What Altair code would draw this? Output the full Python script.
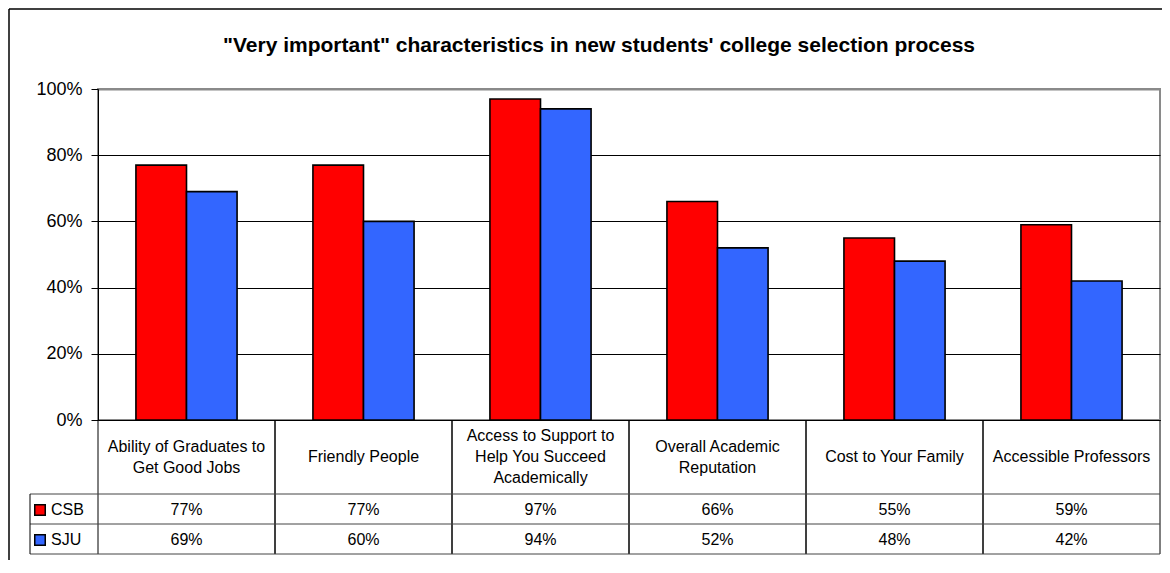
import altair as alt
import pandas as pd

TITLE = "\"Very important\" characteristics in new students' college selection process"
categories = [
    "Ability of Graduates to Get Good Jobs",
    "Friendly People",
    "Access to Support to Help You Succeed Academically",
    "Overall Academic Reputation",
    "Cost to Your Family",
    "Accessible Professors",
]
category_labels = [
    "Ability of Graduates to\nGet Good Jobs",
    "Friendly People",
    "Access to Support to\nHelp You Succeed\nAcademically",
    "Overall Academic\nReputation",
    "Cost to Your Family",
    "Accessible Professors",
]
series = ["CSB", "SJU"]
csb = [77, 77, 97, 66, 55, 59]
sju = [69, 60, 94, 52, 48, 42]
colors = ["#FF0000", "#3366FF"]
y_ticks = [0, 20, 40, 60, 80, 100]

FONT = "Liberation Sans"
W, H = 1062, 331
ROW_TOP = [405, 435]      # CSB / SJU row tops (px below plot top)
TABLE_BOTTOM = 465
LINE_H = 21

long = pd.DataFrame(
    [{"cat": c, "series": s, "value": v}
     for s, vals in zip(series, [csb, sju])
     for c, v in zip(categories, vals)]
)
cats_df = pd.DataFrame({"cat": categories, "label": category_labels,
                        "nlines": [lbl.count("\n") + 1 for lbl in category_labels]})
ser_df = pd.DataFrame({"series": series})
one = pd.DataFrame({"t": [TITLE]})

x_scale = alt.Scale(domain=categories, paddingInner=0, paddingOuter=0)
color_scale = alt.Scale(domain=series, range=colors)

bars = alt.Chart(long).mark_bar(stroke="black", strokeWidth=1.6).encode(
    x=alt.X("cat:N", scale=x_scale, sort=categories,
            axis=alt.Axis(labels=False, ticks=False, title=None, grid=False,
                          domainColor="black", domainWidth=1)),
    xOffset=alt.XOffset("series:N",
                        scale=alt.Scale(domain=series, paddingInner=0, paddingOuter=0.75)),
    y=alt.Y("value:Q", scale=alt.Scale(domain=[0, 100]),
            axis=alt.Axis(values=y_ticks, labelExpr="datum.value + '%'", title=None,
                          labelFont=FONT, labelFontSize=18, labelColor="black",
                          labelPadding=9, tickSize=7, tickColor="black",
                          domainColor="black", domainWidth=1,
                          grid=True,
                          gridColor={"condition": {"test": "datum.value >= 100", "value": "#8a8a8a"},
                                     "value": "#000000"},
                          gridWidth={"condition": {"test": "datum.value >= 100", "value": 2},
                                     "value": 1})),
    color=alt.Color("series:N", scale=color_scale, legend=None),
)

# table vertical lines (cell boundaries)
vl_left = alt.Chart(cats_df).mark_rule(color="black", strokeWidth=1).encode(
    x=alt.X("cat:N", scale=x_scale, bandPosition=0),
    y=alt.value(H), y2=alt.value(TABLE_BOTTOM),
)
vl_right = alt.Chart(cats_df).mark_rule(color="black", strokeWidth=1).encode(
    x=alt.X("cat:N", scale=x_scale, bandPosition=1),
    y=alt.value(H), y2=alt.value(TABLE_BOTTOM),
)
layers = [bars, vl_left, vl_right]

# horizontal table lines + legend column edge
for yy in ROW_TOP + [TABLE_BOTTOM]:
    layers.append(
        alt.Chart(one).mark_rule(color="#444444", strokeWidth=1).encode(
            x=alt.value(-68), x2=alt.value(W), y=alt.value(yy))
    )
layers.append(
    alt.Chart(one).mark_rule(color="black", strokeWidth=1).encode(
        x=alt.value(-68), y=alt.value(ROW_TOP[0]), y2=alt.value(TABLE_BOTTOM))
)

# header row (category names), vertically centred in the header cell
header_mid = (H + ROW_TOP[0]) / 2
for n in sorted(set(cats_df["nlines"])):
    layers.append(
        alt.Chart(cats_df).transform_filter(alt.datum.nlines == n)
        .mark_text(font=FONT, fontSize=16, lineBreak="\n", lineHeight=LINE_H,
                   baseline="middle", align="center", color="black",
                   dy=-(n - 1) * LINE_H / 2)
        .encode(x=alt.X("cat:N", scale=x_scale), y=alt.value(header_mid), text="label:N")
    )

# value rows, legend keys and row labels
for s, top in zip(series, ROW_TOP):
    cy = top + 16
    layers.append(
        alt.Chart(long).transform_filter(alt.datum.series == s)
        .transform_calculate(label="datum.value + '%'")
        .mark_text(font=FONT, fontSize=16, baseline="middle", align="center", color="black")
        .encode(x=alt.X("cat:N", scale=x_scale), y=alt.value(cy), text="label:N")
    )
    layers.append(
        alt.Chart(ser_df).transform_filter(alt.datum.series == s)
        .mark_point(shape="square", filled=True, size=110, stroke="black", strokeWidth=1.5, opacity=1)
        .encode(x=alt.value(-58), y=alt.value(cy),
                color=alt.Color("series:N", scale=color_scale, legend=None))
    )
    layers.append(
        alt.Chart(ser_df).transform_filter(alt.datum.series == s)
        .mark_text(font=FONT, fontSize=16, baseline="middle", align="left", color="black")
        .encode(x=alt.value(-47), y=alt.value(cy), text="series:N")
    )

# title
layers.append(
    alt.Chart(one).mark_text(font=FONT, fontSize=21, fontWeight="bold", align="center",
                             baseline="alphabetic", color="black").encode(
        x=alt.value(501), y=alt.value(-37), text="t:N")
)

# outer chart border (top and left edges visible)
layers.append(
    alt.Chart(one).mark_rule(color="black", strokeWidth=1.5).encode(
        x=alt.value(-89), x2=alt.value(W + 2), y=alt.value(-80))
)
layers.append(
    alt.Chart(one).mark_rule(color="black", strokeWidth=1.5).encode(
        x=alt.value(-89), y=alt.value(-80), y2=alt.value(H + 140))
)

chart = alt.layer(*layers).properties(
    width=W, height=H,
    autosize=alt.AutoSizeParams(type="none"),
    padding={"left": 90, "top": 81, "right": 2, "bottom": 140},
).configure(font=FONT, background="white").configure_view(stroke="#8a8a8a", strokeWidth=2)

chart.save("out.html", embed_options={"renderer": "svg", "actions": False})
